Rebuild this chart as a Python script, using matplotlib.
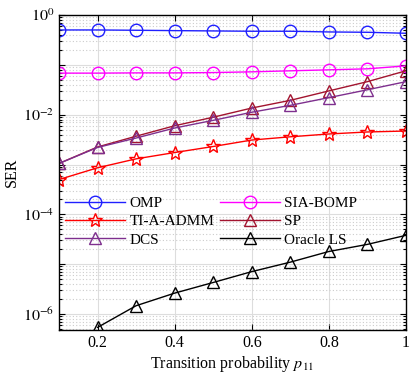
import numpy as np
import matplotlib
matplotlib.use("Agg")
import matplotlib.pyplot as plt
from matplotlib.ticker import LogLocator, FixedLocator, NullFormatter, FuncFormatter

plt.rcParams['font.family'] = ['Liberation Serif', 'DejaVu Serif']
plt.rcParams['mathtext.fontset'] = 'stix'

p = [0.1, 0.2, 0.3, 0.4, 0.5, 0.6, 0.7, 0.8, 0.9, 1.0]
omp = [0.501, 0.501, 0.494, 0.486, 0.479, 0.472, 0.472, 0.457, 0.450, 0.430]
sia_bomp = [0.0682, 0.0682, 0.069, 0.069, 0.070, 0.0724, 0.0759, 0.0794, 0.0832, 0.0955]
ti_a_admm = [5.0e-4, 8.6e-4, 1.3e-3, 1.74e-3, 2.3e-3, 3.1e-3, 3.6e-3, 4.1e-3, 4.5e-3, 4.7e-3]
sp = [1.05e-3, 2.25e-3, 3.7e-3, 6.0e-3, 8.9e-3, 0.0136, 0.0194, 0.030, 0.046, 0.076]
dcs = [1.05e-3, 2.2e-3, 3.4e-3, 5.4e-3, 7.7e-3, 0.0112, 0.0154, 0.022, 0.0316, 0.046]
p_oracle = [0.2, 0.3, 0.4, 0.5, 0.6, 0.7, 0.8, 0.9, 1.0]
oracle_ls = [5.4e-7, 1.47e-6, 2.63e-6, 4.3e-6, 7.1e-6, 1.1e-5, 1.8e-5, 2.5e-5, 3.8e-5]
xticks = [0.2, 0.4, 0.6, 0.8, 1.0]
xticklabels = ['0.2', '0.4', '0.6', '0.8', '1']

fig = plt.figure(figsize=(4.13, 3.73), dpi=100)
ax = fig.add_axes([59/413, 1-330/373, (406-59)/413, (330-15)/373])

ms = 9
lw = 1.0
h_omp, = ax.plot(p, omp, color='#2020ff', marker='o', ms=ms, mfc='none', lw=lw, label='OMP')
h_sia, = ax.plot(p, sia_bomp, color='#ff00ff', marker='o', ms=ms, mfc='none', lw=lw, label='SIA-BOMP')
h_ti, = ax.plot(p, ti_a_admm, color='#ff0000', marker='*', ms=ms+1, mfc='none', lw=lw, label='TI-A-ADMM')
h_sp, = ax.plot(p, sp, color='#a2142f', marker='^', ms=ms, mfc='none', lw=lw, label='SP')
h_dcs, = ax.plot(p, dcs, color='#7e2f8e', marker='^', ms=ms, mfc='none', lw=lw, label='DCS')
h_or, = ax.plot(p_oracle, oracle_ls, color='black', marker='^', ms=ms, mfc='none', lw=lw, label='Oracle LS')

ax.set_yscale('log')
ax.set_xlim(0.1, 1.0)
ax.set_ylim(10**-6.32, 1.0)
ax.set_xticks(xticks)
ax.set_xticklabels(xticklabels)
ax.yaxis.set_major_locator(FixedLocator([10.0**k for k in range(-6, 1)]))
ax.yaxis.set_major_formatter(FuncFormatter(lambda v, pos: (r'$10^{%d}$' % round(np.log10(v))) if round(np.log10(v)) % 2 == 0 else ''))
ax.yaxis.set_minor_locator(LogLocator(base=10, subs=np.arange(2, 10), numticks=20))
ax.yaxis.set_minor_formatter(NullFormatter())

ax.tick_params(which='both', direction='in', top=True, right=True, labelsize=11.5, width=0.8)
ax.tick_params(which='major', length=4)
ax.tick_params(which='minor', length=2.5)
ax.grid(True, which='major', color='#dddddd', lw=0.8, ls='-')
ax.grid(True, which='minor', axis='y', color='#cccccc', lw=0.8, ls=(0, (1, 2)))
ax.set_axisbelow(True)
for s in ax.spines.values():
    s.set_linewidth(1.0)

ax.set_xlabel(r'Transition probability $p_{11}$', fontsize=11.5, labelpad=2)
ax.set_ylabel('SER', fontsize=11.5, labelpad=2)

handles = [h_omp, h_ti, h_dcs, h_sia, h_sp, h_or]
ax.legend(handles=handles, labels=[h.get_label() for h in handles], ncol=2,
          loc='lower left', bbox_to_anchor=(0.0, 0.245), frameon=False,
          fontsize=11, handlelength=3.9, columnspacing=0.4, labelspacing=0.3,
          handletextpad=0.3, borderaxespad=0.2, borderpad=0.2)

fig.savefig('out.png', dpi=100)
